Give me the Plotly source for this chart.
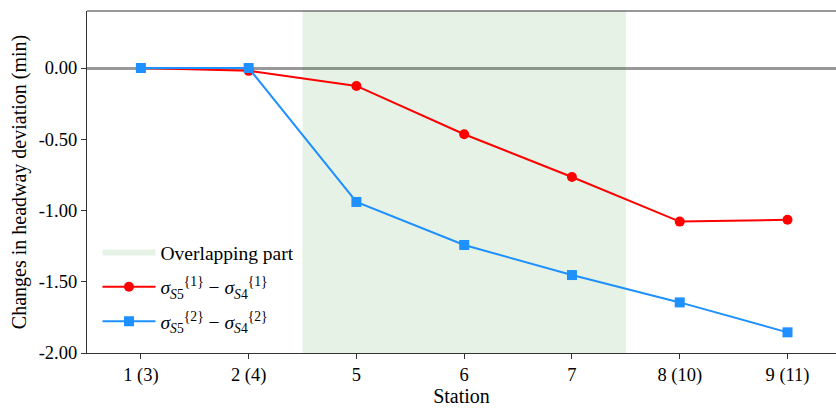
import plotly.graph_objects as go

stations = ["1 (3)", "2 (4)", "5", "6", "7", "8 (10)", "9 (11)"]
red_vals = [0.0, -0.02, -0.126, -0.465, -0.765, -1.078, -1.065]
blue_vals = [0.0, 0.0, -0.94, -1.242, -1.453, -1.645, -1.855]
y_ticks = [0.0, -0.5, -1.0, -1.5, -2.0]
y_tick_text = ["0.00", "-0.50", "-1.00", "-1.50", "-2.00"]
overlap_range = [1.5, 4.5]
y_range = [-2.0, 0.4]

xi = list(range(len(stations)))
FONT = "Liberation Serif, Times New Roman, serif"

fig = go.Figure()

fig.add_trace(go.Scatter(
    x=[overlap_range[0], overlap_range[1], overlap_range[1], overlap_range[0], overlap_range[0]],
    y=[y_range[0], y_range[0], y_range[1], y_range[1], y_range[0]],
    fill="toself", fillcolor="rgba(0,128,0,0.1)", mode="none",
    name="Overlapping part", hoverinfo="skip", legendgroup="a",
))

fig.add_trace(go.Scatter(
    x=xi, y=red_vals, mode="lines+markers",
    line=dict(color="#ff0000", width=2),
    marker=dict(symbol="circle", size=10, color="#ff0000"),
    legendgroup="b",
    name="<i>σ</i><sub><i>S</i>5</sub><sup>{1}</sup> − <i>σ</i><sub><i>S</i>4</sub><sup>{1}</sup>",
))
fig.add_trace(go.Scatter(
    x=xi, y=blue_vals, mode="lines+markers",
    line=dict(color="#1e90ff", width=2),
    marker=dict(symbol="square", size=10, color="#1e90ff"),
    legendgroup="c",
    name="<i>σ</i><sub><i>S</i>5</sub><sup>{2}</sup> − <i>σ</i><sub><i>S</i>4</sub><sup>{2}</sup>",
))

# top spine
fig.add_shape(type="line", xref="paper", yref="paper", x0=0, x1=1, y0=1, y1=1,
              line=dict(color="#333333", width=1.2))

fig.update_layout(
    width=836, height=410,
    margin=dict(l=87, r=0, t=11, b=57),
    plot_bgcolor="white", paper_bgcolor="white",
    font=dict(family=FONT, size=18, color="black"),
    showlegend=True,
    legend=dict(x=0.014, y=0.35, xanchor="left", yanchor="top",
                bgcolor="rgba(0,0,0,0)", font=dict(family=FONT, size=19.5),
                itemwidth=53, tracegroupgap=6),
)
fig.update_xaxes(
    range=[-0.5, 6.45], tickvals=xi, ticktext=stations,
    tickfont=dict(family=FONT, size=18.5),
    showline=True, linecolor="#333333", linewidth=1.2,
    ticks="outside", ticklen=5, tickcolor="#333333",
    showgrid=False, zeroline=False,
    title=dict(text="Station", font=dict(family=FONT, size=20), standoff=2),
)
fig.update_yaxes(
    range=y_range, tickvals=y_ticks, ticktext=y_tick_text,
    tickfont=dict(family=FONT, size=18.5),
    showline=True, linecolor="#333333", linewidth=1.2,
    ticks="outside", ticklen=5, tickcolor="#333333",
    showgrid=False, zeroline=True, zerolinecolor="#999999", zerolinewidth=2.5,
    title=dict(text="Changes in headway deviation (min)", font=dict(family=FONT, size=20), standoff=6),
)

fig.write_html("out.html")
